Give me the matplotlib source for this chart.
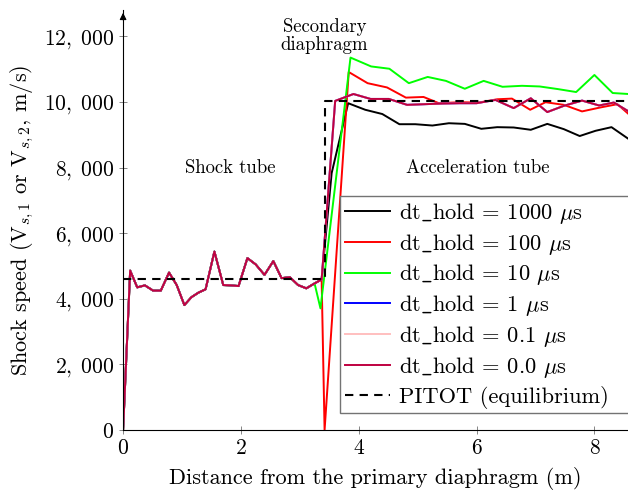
import numpy as np
import matplotlib.pyplot as plt

plt.rcParams['font.family'] = 'serif'
plt.rcParams['font.serif'] = ['cmr10']
plt.rcParams['mathtext.fontset'] = 'cm'
plt.rcParams['axes.unicode_minus'] = False

# shock tube part (shared by all dt_hold cases)
x_st = [0.0, 0.12, 0.24, 0.37, 0.51, 0.64, 0.78, 0.91, 1.04, 1.16, 1.28, 1.40, 1.55,
        1.70, 1.83, 1.96, 2.11, 2.25, 2.40, 2.55, 2.69, 2.83, 2.97, 3.11, 3.25, 3.37]
v_st = [0, 4860, 4350, 4410, 4250, 4250, 4800, 4420, 3810, 4050, 4190, 4290, 5440,
        4420, 4410, 4390, 5240, 5050, 4730, 5150, 4630, 4660, 4420, 4320, 4470, 4590]

# acceleration tube part, per case
x_1000 = [3.54, 3.82, 4.11, 4.40, 4.69, 4.96, 5.25, 5.53, 5.80, 6.08, 6.35, 6.63,
          6.92, 7.20, 7.48, 7.75, 8.02, 8.29, 8.58]
v_1000 = [7830, 9960, 9760, 9630, 9320, 9320, 9280, 9350, 9330, 9180, 9230, 9220,
          9150, 9330, 9170, 8960, 9120, 9230, 8870]

x_100 = [3.42, 3.83, 4.15, 4.48, 4.80, 5.10, 5.36, 5.72, 6.04, 6.35, 6.60, 6.91,
         7.17, 7.48, 7.79, 8.10, 8.39, 8.58]
v_100 = [0, 10910, 10570, 10440, 10130, 10150, 9960, 9990, 9980, 10080, 10100, 9760,
         9990, 9910, 9710, 9830, 9930, 9630]

x_10 = [3.35, 3.86, 4.21, 4.52, 4.85, 5.17, 5.48, 5.80, 6.12, 6.44, 6.77, 7.07,
        7.38, 7.69, 8.00, 8.31, 8.58]
v_10 = [3710, 11350, 11080, 11010, 10570, 10760, 10640, 10400, 10640, 10460, 10490,
        10470, 10390, 10300, 10820, 10270, 10240]

x_0 = [3.60, 3.91, 4.20, 4.51, 4.82, 5.12, 5.42, 5.71, 6.00, 6.32, 6.63, 6.92, 7.20,
       7.48, 7.79, 8.08, 8.33, 8.58]
v_0 = [10030, 10240, 10090, 10090, 9910, 9930, 9950, 9960, 9960, 10060, 9810, 10110,
       9690, 9880, 10040, 9890, 9980, 9710]

# PITOT equilibrium estimate
x_pitot = [0.0, 3.42, 3.42, 8.7]
v_pitot = [4600, 4600, 10030, 10030]

yticks = [0, 2000, 4000, 6000, 8000, 10000, 12000]
ytick_labels = [r'$0$', r'$2,\;000$', r'$4,\;000$', r'$6,\;000$', r'$8,\;000$',
                r'$10,\;000$', r'$12,\;000$']
xticks = [0, 2, 4, 6, 8]

cases = [
    ('1000', '#000000', x_st + x_1000, v_st + v_1000),
    ('100', '#ff0000', x_st + x_100, v_st + v_100),
    ('10', '#00ff00', x_st[:-1] + x_10, v_st[:-1] + v_10),
    ('1', '#0000ff', x_st + x_0, v_st + v_0),
    ('0.1', '#ffbfbf', x_st + x_0, v_st + v_0),
    ('0.0', '#bf0040', x_st + x_0, v_st + v_0),
]

fig = plt.figure(figsize=(6.28, 4.99), dpi=100)
ax = fig.add_axes([0.196, 0.138, 0.804, 0.842])

for dt, col, xs, vs in cases:
    ax.plot(xs, vs, color=col, linewidth=1.4,
            label=r'dt$\_$hold = ' + dt + r' $\mu$s')
ax.plot(x_pitot, v_pitot, 'k--', linewidth=1.5, dashes=(4, 3),
        label='PITOT (equilibrium)')

ax.set_xlim(0, 8.57)
ax.set_ylim(0, 12800)
ax.set_xticks(xticks)
ax.set_xticklabels([f'${t}$' for t in xticks])
ax.set_yticks(yticks)
ax.set_yticklabels(ytick_labels)
ax.tick_params(direction='inout', length=5.7, width=0.6, color='0.45', labelsize=15.5)
for s in ['top', 'right']:
    ax.spines[s].set_visible(False)
ax.spines['left'].set_linewidth(0.8)
ax.spines['bottom'].set_linewidth(0.8)
ax.annotate('', xy=(0, 1.0), xytext=(0, 0.97), xycoords='axes fraction',
            arrowprops=dict(arrowstyle='-|>', color='k', lw=0.8, mutation_scale=10))

ax.set_xlabel('Distance from the primary diaphragm (m)', fontsize=16, labelpad=6)
ax.set_ylabel(r'Shock speed (V$_{s,1}$ or V$_{s,2}$, m/s)', fontsize=16, labelpad=6)

ax.text(1.82, 7970, 'Shock tube', ha='center', va='center', fontsize=13.5)
ax.text(6.02, 7970, 'Acceleration tube', ha='center', va='center', fontsize=13.5)
ax.text(3.42, 12000, 'Secondary\ndiaphragm', ha='center', va='center', fontsize=13.5,
        linespacing=1.0)

leg = ax.legend(loc='lower left', bbox_to_anchor=(0.43, 0.04, 0.62, 0.5), mode='expand',
                fontsize=16.2, fancybox=False, framealpha=1, edgecolor='0.45',
                handlelength=2.0, handletextpad=0.4, borderpad=0.2, labelspacing=0.26,
                borderaxespad=0)
leg.get_frame().set_linewidth(1.0)

fig.savefig('out.png', dpi=100)
